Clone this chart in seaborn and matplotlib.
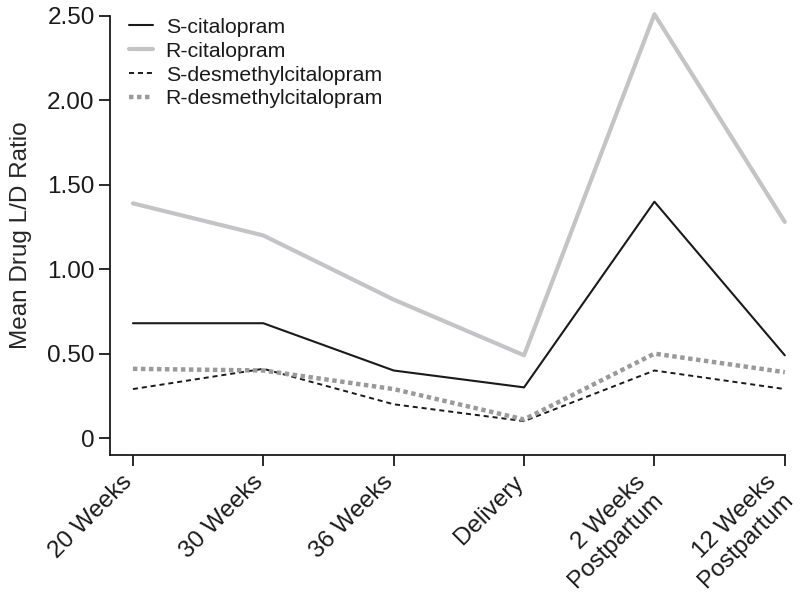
import matplotlib
matplotlib.use("Agg")
import matplotlib.pyplot as plt
import seaborn as sns
import pandas as pd

timepoints = ["20 Weeks", "30 Weeks", "36 Weeks", "Delivery", "2 Weeks\nPostpartum", "12 Weeks\nPostpartum"]
s_citalopram = [0.68, 0.68, 0.40, 0.30, 1.40, 0.49]
r_citalopram = [1.39, 1.20, 0.82, 0.49, 2.51, 1.28]
s_desmethyl = [0.29, 0.41, 0.20, 0.10, 0.40, 0.29]
r_desmethyl = [0.41, 0.40, 0.29, 0.11, 0.50, 0.39]

series_names = ["S-citalopram", "R-citalopram", "S-desmethylcitalopram", "R-desmethylcitalopram"]
series_values = [s_citalopram, r_citalopram, s_desmethyl, r_desmethyl]

sns.set_theme(style="ticks")
plt.rcParams["font.family"] = ["Liberation Sans", "DejaVu Sans"]

fig = plt.figure(figsize=(8, 5.92), dpi=100)
ax = fig.add_axes([0.1375, 0.231, 0.981 - 0.1375, 0.973 - 0.231])

styles = {
    "S-citalopram": dict(color="#1a1a1a", lw=1.5, ls="-"),
    "R-citalopram": dict(color="#c4c4c6", lw=3.0, ls="-"),
    "S-desmethylcitalopram": dict(color="#1a1a1a", lw=1.4, ls=(0, (2.6, 2.0))),
    "R-desmethylcitalopram": dict(color="#9a9a9c", lw=3.2, ls=(0, (1.0, 0.8))),
}

xpos = list(range(len(timepoints)))
for name, vals in zip(series_names, series_values):
    st = styles[name]
    df = pd.DataFrame({"x": xpos, "y": vals})
    sns.lineplot(data=df, x="x", y="y", ax=ax, color=st["color"], linewidth=st["lw"],
                 linestyle=st["ls"], label=name, sort=False, clip_on=False)

ax.set_xlim(-0.176, 5.0)
ax.set_ylim(-0.102, 2.5)
ax.set_yticks([0, 0.5, 1.0, 1.5, 2.0, 2.5])
ax.set_yticklabels(["0", "0.50", "1.00", "1.50", "2.00", "2.50"], fontsize=17.5)
ax.set_xticks(xpos)
ax.set_xticklabels([""] * len(xpos))
# rotated category labels, placed under each tick
for i, lab in zip(xpos, timepoints):
    dx = 9.4 if "\n" in lab else 2.9
    ax.annotate(lab, xy=(i, 0), xycoords=("data", "axes fraction"),
                xytext=(dx, -11.5), textcoords="offset points",
                rotation=45, ha="right", va="top", rotation_mode="default",
                fontsize=17.5, linespacing=1.15, color="#1a1a1a", annotation_clip=False)
ax.set_xlabel("")
ax.set_ylabel("Mean Drug L/D Ratio", fontsize=17.5, labelpad=11)

for side in ["top", "right"]:
    ax.spines[side].set_visible(False)
for side in ["left", "bottom"]:
    ax.spines[side].set_linewidth(1.3)
    ax.spines[side].set_color("#1a1a1a")
ax.tick_params(axis="both", length=8, width=1.3, color="#1a1a1a", labelcolor="#1a1a1a")
ax.tick_params(axis="y", pad=3)

leg = ax.legend(loc="upper left", bbox_to_anchor=(0.01, 1.025), frameon=False, fontsize=15.3,
                handlelength=1.1, handletextpad=0.6, labelspacing=0.23, borderaxespad=0.2)
for t in leg.get_texts():
    t.set_color("#1a1a1a")

fig.savefig("out.png", dpi=100)
